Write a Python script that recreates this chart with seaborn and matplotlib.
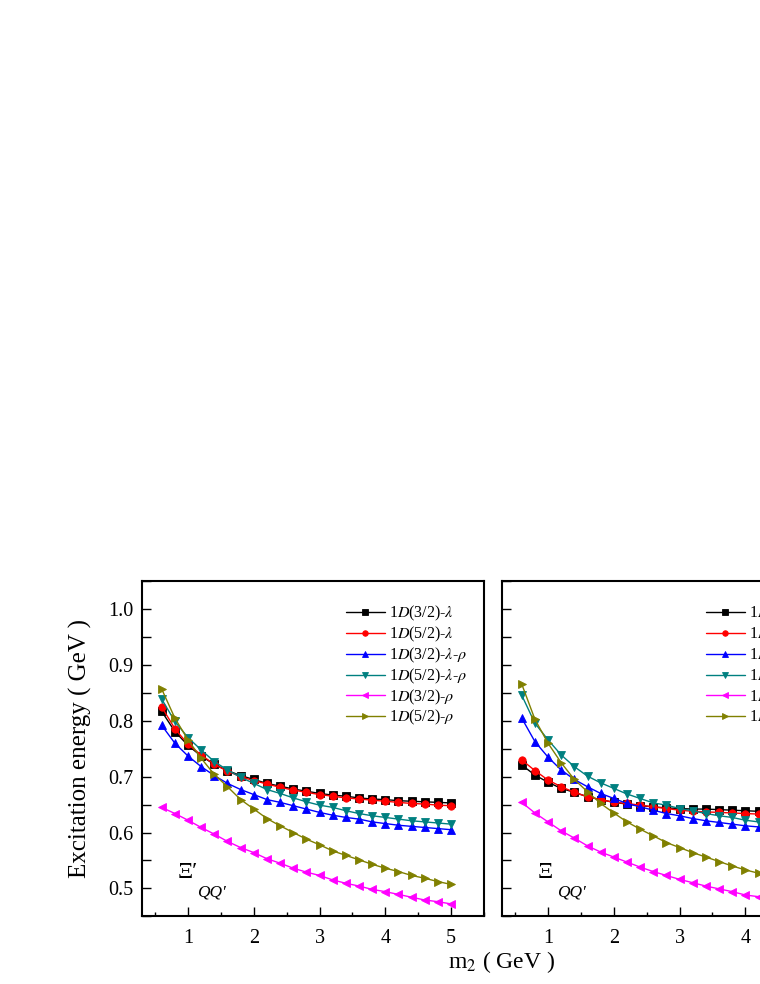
import matplotlib
matplotlib.use("Agg")
import matplotlib.pyplot as plt
from matplotlib.ticker import MultipleLocator
import seaborn as sns

# mass of the second heavy quark (GeV)
m2 = [0.6, 0.8, 1.0, 1.2, 1.4, 1.6, 1.8, 2.0, 2.2, 2.4, 2.6, 2.8,
      3.0, 3.2, 3.4, 3.6, 3.8, 4.0, 4.2, 4.4, 4.6, 4.8, 5.0]

labels = [r"1$D$(3/2)-$\lambda$", r"1$D$(5/2)-$\lambda$",
          r"1$D$(3/2)-$\lambda$-$\rho$", r"1$D$(5/2)-$\lambda$-$\rho$",
          r"1$D$(3/2)-$\rho$", r"1$D$(5/2)-$\rho$"]
colors = ["#000000", "#ff0000", "#0000ff", "#008080", "#ff00ff", "#808000"]
markers = ["s", "o", "^", "v", "<", ">"]

# Xi'_QQ' (left panel)
xip_d32_lam = [0.817, 0.781, 0.756, 0.737, 0.722, 0.711, 0.702, 0.695, 0.688, 0.683, 0.678, 0.674,
               0.670, 0.667, 0.665, 0.662, 0.660, 0.659, 0.657, 0.656, 0.655, 0.654, 0.653]
xip_d52_lam = [0.825, 0.786, 0.758, 0.739, 0.722, 0.710, 0.700, 0.693, 0.687, 0.681, 0.676, 0.672,
               0.668, 0.665, 0.662, 0.660, 0.658, 0.656, 0.654, 0.652, 0.651, 0.649, 0.648]
xip_d32_lr = [0.792, 0.760, 0.737, 0.718, 0.702, 0.688, 0.677, 0.668, 0.659, 0.654, 0.648, 0.642,
              0.636, 0.631, 0.627, 0.624, 0.619, 0.616, 0.613, 0.611, 0.609, 0.607, 0.605]
xip_d52_lr = [0.839, 0.799, 0.770, 0.748, 0.727, 0.712, 0.699, 0.688, 0.677, 0.670, 0.662, 0.655,
              0.649, 0.645, 0.639, 0.634, 0.630, 0.627, 0.624, 0.621, 0.619, 0.617, 0.615]
xip_d32_rho = [0.645, 0.634, 0.622, 0.609, 0.597, 0.584, 0.573, 0.564, 0.553, 0.545, 0.536, 0.529,
               0.523, 0.515, 0.509, 0.504, 0.498, 0.494, 0.489, 0.484, 0.479, 0.476, 0.472]
xip_d52_rho = [0.857, 0.805, 0.766, 0.733, 0.704, 0.682, 0.659, 0.642, 0.625, 0.612, 0.600, 0.588,
               0.578, 0.567, 0.559, 0.551, 0.543, 0.536, 0.530, 0.523, 0.518, 0.512, 0.507]

# Xi_QQ' (right panel)
xi_d32_lam = [0.721, 0.703, 0.690, 0.679, 0.672, 0.664, 0.659, 0.654, 0.651, 0.648, 0.646, 0.644,
              0.643, 0.642, 0.642, 0.641, 0.640, 0.639, 0.638, 0.638, 0.637, 0.637, 0.636]
xi_d52_lam = [0.730, 0.711, 0.694, 0.682, 0.672, 0.664, 0.659, 0.654, 0.652, 0.649, 0.646, 0.643,
              0.640, 0.638, 0.637, 0.636, 0.635, 0.634, 0.633, 0.632, 0.631, 0.630, 0.629]
xi_d32_lr = [0.805, 0.763, 0.735, 0.712, 0.695, 0.682, 0.670, 0.661, 0.652, 0.646, 0.640, 0.634,
             0.630, 0.625, 0.621, 0.618, 0.615, 0.612, 0.610, 0.608, 0.606, 0.605, 0.603]
xi_d52_lr = [0.846, 0.796, 0.766, 0.739, 0.718, 0.701, 0.689, 0.679, 0.669, 0.661, 0.653, 0.649,
             0.643, 0.639, 0.634, 0.630, 0.627, 0.622, 0.619, 0.617, 0.615, 0.613, 0.611]
xi_d32_rho = [0.654, 0.635, 0.619, 0.603, 0.590, 0.576, 0.565, 0.556, 0.547, 0.538, 0.530, 0.523,
              0.516, 0.510, 0.504, 0.499, 0.494, 0.488, 0.485, 0.482, 0.479, 0.476, 0.473]
xi_d52_rho = [0.866, 0.803, 0.760, 0.725, 0.695, 0.673, 0.652, 0.635, 0.619, 0.606, 0.594, 0.582,
              0.573, 0.564, 0.556, 0.548, 0.540, 0.533, 0.527, 0.522, 0.517, 0.512, 0.507]

panels = [
    ([xip_d32_lam, xip_d52_lam, xip_d32_lr, xip_d52_lr, xip_d32_rho, xip_d52_rho], "Ξ′"),
    ([xi_d32_lam, xi_d52_lam, xi_d32_lr, xi_d52_lr, xi_d32_rho, xi_d52_rho], "Ξ"),
]

sns.set_style("ticks")
plt.rcParams["font.family"] = ["Liberation Serif", "DejaVu Serif"]
plt.rcParams["mathtext.fontset"] = "stix"
for key in ["text.color", "axes.labelcolor", "xtick.color", "ytick.color", "axes.edgecolor"]:
    plt.rcParams[key] = "black"

fig = plt.figure(figsize=(7.6, 9.84), dpi=100)
ax_left = fig.add_axes([0.18684, 0.0689, 0.45, 0.34024])
ax_right = fig.add_axes([0.66053, 0.0689, 0.45, 0.34024])

for ax, (series, tag) in zip([ax_left, ax_right], panels):
    for vals, lab, c, mk in zip(series, labels, colors, markers):
        sns.lineplot(x=m2, y=vals, ax=ax, color=c, marker=mk, markersize=5.3,
                     markeredgecolor=c, markeredgewidth=0.6, linewidth=1.0, label=lab)
    ax.set_xlim(0.3, 5.5)
    ax.set_ylim(0.45, 1.05)
    ax.xaxis.set_major_locator(MultipleLocator(1))
    ax.xaxis.set_minor_locator(MultipleLocator(0.5))
    ax.yaxis.set_major_locator(MultipleLocator(0.1))
    ax.yaxis.set_minor_locator(MultipleLocator(0.05))
    ax.tick_params(which="both", direction="in", width=1.0, top=False, right=False, labelsize=14.5)
    ax.tick_params(axis="x", which="major", length=6.5, pad=9)
    ax.tick_params(axis="x", which="minor", length=3.2)
    ax.tick_params(axis="y", which="both", length=6.5, pad=6)
    for sp in ax.spines.values():
        sp.set_linewidth(1.5)
        sp.set_visible(True)
    ax.set_xlabel("")
    ax.set_ylabel("")
    ax.text(0.103, 0.113, tag, transform=ax.transAxes, fontsize=17)
    ax.text(0.162, 0.06, "QQ′", transform=ax.transAxes, fontsize=12.5, style="italic")
    ax.legend(loc="upper left", bbox_to_anchor=(0.597, 0.932), frameon=False, fontsize=11.5,
              handlelength=2.4, handletextpad=0.3, labelspacing=0.1, borderpad=0,
              borderaxespad=0, markerscale=0.75)

ax_right.set_yticklabels([])
ax_left.set_ylabel("Excitation energy ( GeV )", fontsize=18, labelpad=12)
fig.text(502 / 760, 1 - 962 / 984, "m$_2$ ( GeV )", ha="center", va="center", fontsize=17)

fig.savefig("out.png", dpi=100)
